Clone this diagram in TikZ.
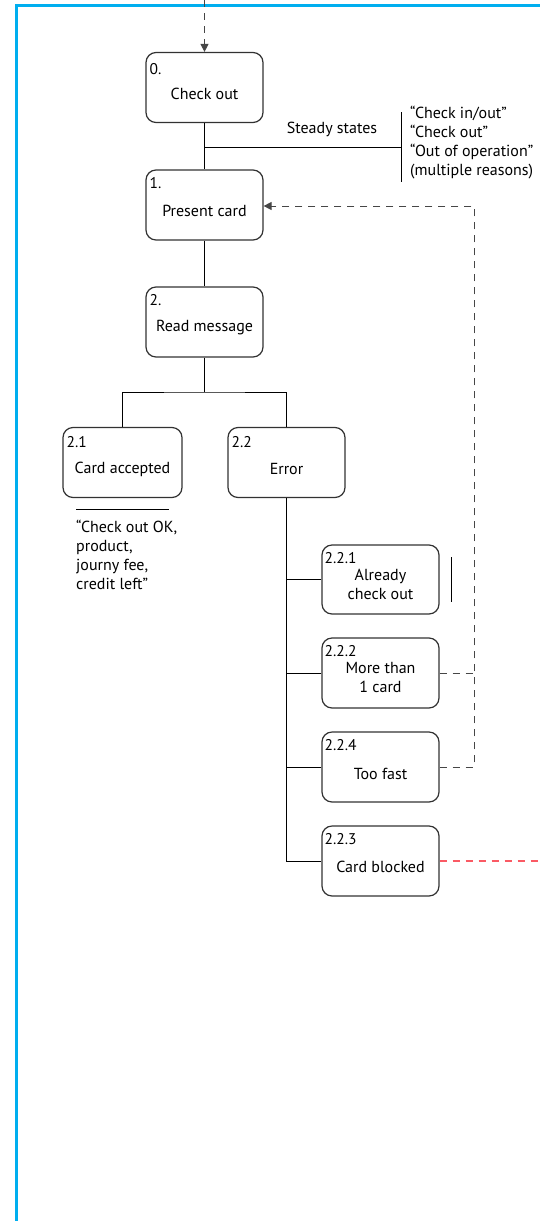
\documentclass[tikz,border=0pt]{standalone}
\usepackage{fontspec}
\setmainfont{PT Sans}
\usetikzlibrary{arrows.meta}
\definecolor{frameblue}{RGB}{0,174,239}
\definecolor{boxgray}{RGB}{50,50,50}
\definecolor{dashgray}{RGB}{70,70,70}
\definecolor{dashred}{RGB}{250,90,100}
\tikzset{
  box/.style={draw=boxgray, line width=1.2pt, rounded corners=10pt, minimum width=117pt, minimum height=70pt, inner sep=0pt},
  maintxt/.style={inner sep=0pt, align=center, font=\fontsize{16}{19}\selectfont},
  numtxt/.style={inner sep=0pt, anchor=west, font=\fontsize{15.5}{18}\selectfont},
  notetxt/.style={inner sep=0pt, align=left, font=\fontsize{16}{19}\selectfont},
  conn/.style={line width=1pt, black},
  fb/.style={line width=1pt, dashgray, dash pattern=on 7pt off 6pt},
  fbred/.style={line width=1.2pt, dashred, dash pattern=on 7pt off 6pt},
  tip/.style={-{Triangle[length=8pt,width=8pt]}}
}
\begin{document}
\begin{tikzpicture}[x=1pt,y=-1pt]
\useasboundingbox (0,0) rectangle (540,1221);
\draw[frameblue, line width=3pt] (16,1222) -- (16,5) -- (541,5);

% boxes
\node[box] (n0) at (204.5,87.5) {};
\node[box] (n1) at (204.5,205) {};
\node[box] (n2) at (204.5,322) {};
\node[box, minimum width=119pt] (n21) at (122.5,462.5) {};
\node[box] (n22) at (286.5,462.5) {};
\node[box, minimum height=69pt] (n221) at (380.5,579.5) {};
\node[box] (n222) at (380.5,673) {};
\node[box] (n224) at (380.5,767) {};
\node[box] (n223) at (380.5,861) {};

% numbers
\node[numtxt] (l0) at ([xshift=4pt,yshift=-17pt]n0.north west) {0.};
\node[numtxt] (l1) at ([xshift=4pt,yshift=-14pt]n1.north west) {1.};
\node[numtxt] (l2) at ([xshift=4pt,yshift=-14pt]n2.north west) {2.};
\node[numtxt] (l21) at ([xshift=4pt,yshift=-15pt]n21.north west) {2.1};
\node[numtxt] (l22) at ([xshift=4pt,yshift=-15pt]n22.north west) {2.2};
\node[numtxt] (l221) at ([xshift=3pt,yshift=-14pt]n221.north west) {2.2.1};
\node[numtxt] (l222) at ([xshift=3pt,yshift=-14pt]n222.north west) {2.2.2};
\node[numtxt] (l224) at ([xshift=3pt,yshift=-14pt]n224.north west) {2.2.4};
\node[numtxt] (l223) at ([xshift=3pt,yshift=-14pt]n223.north west) {2.2.3};

% main texts
\node[maintxt] (t0) at ([yshift=-6pt]n0.center) {Check out};
\node[maintxt] (t1) at ([yshift=-6pt]n1.center) {Present card};
\node[maintxt] (t2) at ([yshift=-6pt]n2.center) {Read message};
\node[maintxt] (t21) at ([yshift=-6.5pt]n21.center) {Card accepted};
\node[maintxt] (t22) at ([yshift=-6.5pt]n22.center) {Error};
\node[maintxt] (t221) at ([yshift=-4.5pt]n221.center) {Already\\check out};
\node[maintxt] (t222) at ([yshift=-4pt]n222.center) {More than\\1 card};
\node[maintxt] (t224) at ([yshift=-7pt]n224.center) {Too fast};
\node[maintxt] (t223) at ([yshift=-6pt]n223.center) {Card blocked};

% steady states
\coordinate (sj) at (204.5,147);
\coordinate (bt) at (401,112);
\coordinate (bb) at (401,182);
\coordinate (bm) at (401,147);
\node[maintxt] (steady) at (332,129) {Steady states};
\node[notetxt, anchor=north west] (states) at (410,106) {“Check in/out”\\“Check out”\\“Out of operation”\\(multiple reasons)};

% connectors
\coordinate (top) at (204.5,0);
\draw[fb, tip] (top) -- (n0.north);
\draw[conn] (n0.south) -- (n1.north);
\draw[conn] (sj) -- (bm);
\draw[conn] (bt) -- (bb);
\draw[conn] (n1.south) -- (n2.north);
\coordinate (j2) at (204.5,392);
\draw[conn] (n2.south) -- (j2);
\draw[conn] (n21.north) |- (j2) -| (n22.north);

% note under 2.1
\coordinate (ul) at (76,509);
\coordinate (ur) at (169,509);
\draw[conn, line width=0.9pt] (ul) -- (ur);
\node[notetxt, anchor=north west] (note21) at (76,520) {“Check out OK,\\product,\\journy fee,\\credit left”};

% error branches
\draw[conn] (n22.south) |- (n223.west);
\draw[conn] (n221.west) -- (n221.west -| n22.south);
\draw[conn] (n222.west) -- (n222.west -| n22.south);
\draw[conn] (n224.west) -- (n224.west -| n22.south);

% side bar at 2.2.1
\coordinate (sb1) at (451,557);
\coordinate (sb2) at (451,602);
\draw[conn, line width=0.9pt] (sb1) -- (sb2);

% feedback dashed
\coordinate (fc1) at (474,767);
\coordinate (fc2) at (474,206);
\coordinate (fc3) at (474,673);
\draw[fb, tip] (n224.east) -- (fc1) -- (fc2) -- (n1.east |- fc2);
\draw[fb] (n222.east) -- (fc3);

% red dashed
\coordinate (redend) at (541,861);
\draw[fbred] (n223.east) -- (redend);
\end{tikzpicture}
\end{document}
